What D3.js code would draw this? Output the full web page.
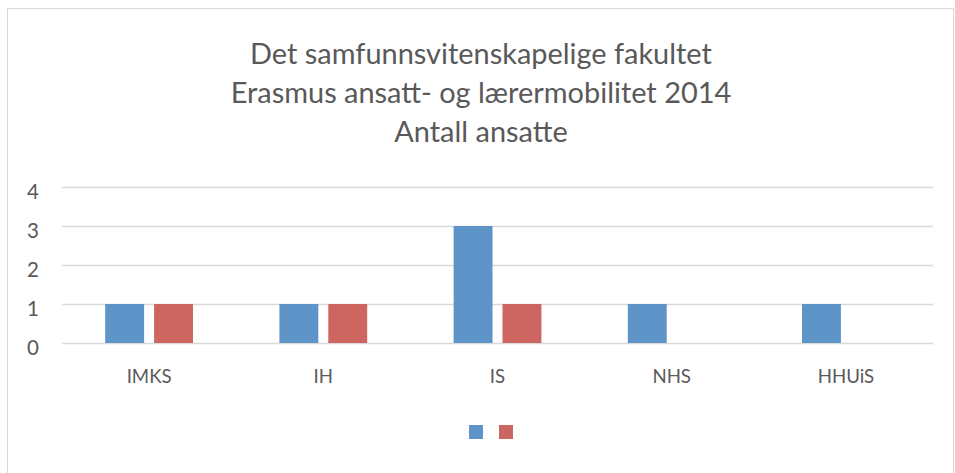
<!DOCTYPE html>
<html>
<head>
<meta charset="utf-8">
<script src="https://cdn.jsdelivr.net/npm/d3@7"></script>
<style>
  body { margin: 0; background: #fff; }
  svg { display: block; font-family: Lato, "Open Sans", sans-serif; }
</style>
</head>
<body>
<svg id="chart" width="955" height="473"></svg>
<script>
  // ─── Data ─────────────────────────────────────────
  const titleLines = [
    'Det samfunnsvitenskapelige fakultet',
    'Erasmus ansatt- og lærermobilitet 2014',
    'Antall ansatte'
  ];
  const categories = ['IMKS', 'IH', 'IS', 'NHS', 'HHUiS'];
  const seriesNames = ['', ''];
  const seriesA = [1, 1, 3, 1, 1];
  const seriesB = [1, 1, 1, 0, 0];
  const yTicks = [0, 1, 2, 3, 4];
  const colors = ['#5f94c9', '#cd6660'];

  const W = 955;
  const FONT = 'Lato, "Open Sans", sans-serif';
  const margin = { left: 62, right: 22 };
  const svg = d3.select('#chart');

  // fit a font size so that a sample text reaches a target width
  function fitSize(sample, target) {
    const t = svg.append('text').style('font-family', FONT).style('font-size', '20px').text(sample);
    const len = t.node().getComputedTextLength();
    t.remove();
    return 20 * target / len;
  }

  // chart frame
  svg.append('rect')
    .attr('x', 7.5).attr('y', 8.5)
    .attr('width', 946).attr('height', 480)
    .attr('fill', 'none').attr('stroke', '#d9d9d9');

  // ─── Title ────────────────────────────────────────
  const titleSize = fitSize(titleLines[0], 462);
  titleLines.forEach(function (t, i) {
    svg.append('text')
      .attr('x', 481).attr('y', 64 + i * 39)
      .attr('text-anchor', 'middle')
      .attr('fill', '#595959')
      .style('font-size', titleSize + 'px')
      .text(t);
  });

  // ─── Scales ───────────────────────────────────────
  const x0 = d3.scaleBand()
    .domain(categories)
    .range([margin.left, W - margin.right])
    .paddingInner(0.496).paddingOuter(0.248);

  const x1 = d3.scaleBand()
    .domain([0, 1])
    .range([0, x0.bandwidth()])
    .paddingInner(0.204);

  const y = d3.scaleLinear()
    .domain([0, 4])
    .range([343, 187]);

  // gridlines
  svg.append('g').selectAll('line')
    .data(yTicks)
    .join('line')
    .attr('x1', margin.left).attr('x2', W - margin.right)
    .attr('y1', d => Math.round(y(d)) + 0.5).attr('y2', d => Math.round(y(d)) + 0.5)
    .attr('stroke', '#d9d9d9').attr('stroke-width', 1.3);

  const labelSize = fitSize('IMKS', 45);

  // y axis labels
  const yAxis = d3.axisLeft(y).tickValues(yTicks).tickFormat(d3.format('d')).tickSize(0).tickPadding(0);
  const gy = svg.append('g')
    .attr('transform', 'translate(39,4)')
    .call(yAxis);
  gy.select('.domain').remove();
  gy.selectAll('.tick text')
    .attr('fill', '#595959')
    .attr('dy', '0.35em')
    .style('font-family', FONT)
    .style('font-size', (labelSize * 1.1) + 'px');

  // x axis labels
  const xAxis = d3.axisBottom(x0).tickSize(0).tickPadding(0);
  const gx = svg.append('g')
    .attr('transform', 'translate(0,383)')
    .call(xAxis);
  gx.select('.domain').remove();
  gx.selectAll('.tick text')
    .attr('fill', '#595959')
    .attr('dy', '0')
    .style('font-family', FONT)
    .style('font-size', labelSize + 'px');

  // ─── Bars ─────────────────────────────────────────
  const series = [seriesA, seriesB];
  series.forEach(function (vals, s) {
    svg.append('g').selectAll('rect')
      .data(vals.map((v, i) => ({ cat: categories[i], v: v })).filter(d => d.v > 0))
      .join('rect')
      .attr('x', d => x0(d.cat) + x1(s))
      .attr('y', d => y(d.v))
      .attr('width', x1.bandwidth())
      .attr('height', d => y(0) - y(d.v))
      .attr('fill', colors[s]);
  });

  // ─── Legend ───────────────────────────────────────
  const leg = svg.append('g');
  seriesNames.forEach(function (name, i) {
    leg.append('rect')
      .attr('x', 469 + i * 30).attr('y', 425)
      .attr('width', 14).attr('height', 14)
      .attr('fill', colors[i]);
  });
</script>
</body>
</html>
